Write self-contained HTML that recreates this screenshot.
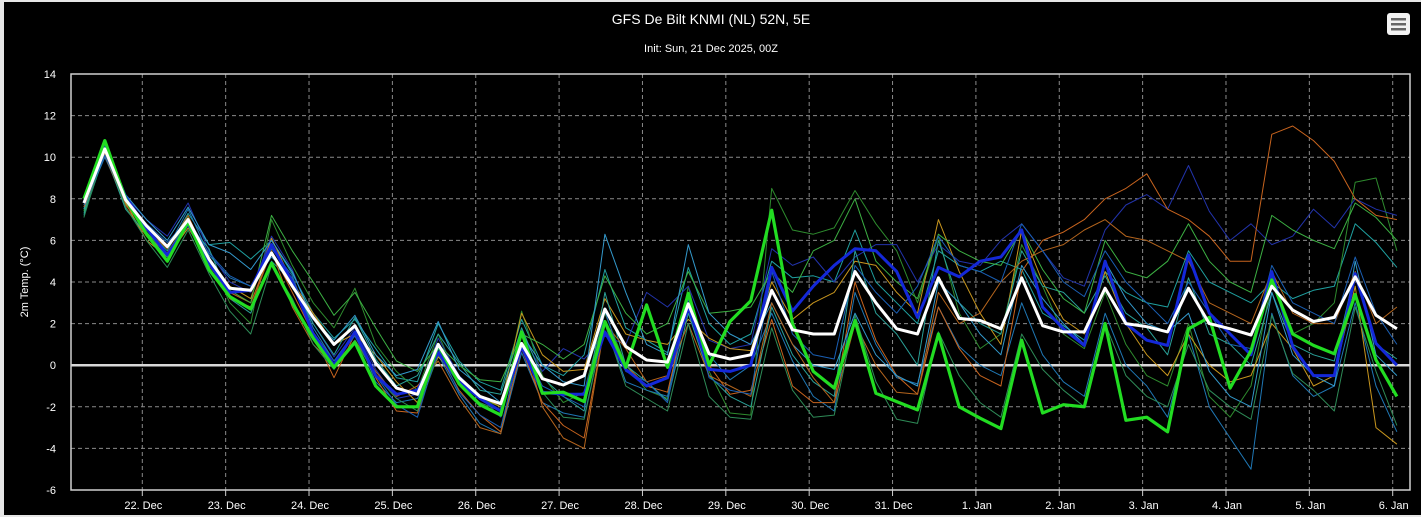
<!DOCTYPE html>
<html><head><meta charset="utf-8">
<style>
html,body{margin:0;padding:0;background:#000;}
#wrap{position:relative;width:1421px;height:517px;background:#000;overflow:hidden;}
svg text{font-family:"Liberation Sans",sans-serif;fill:#fff;}
</style></head>
<body>
<div id="wrap">
<svg id="chart" width="1421" height="517" xmlns="http://www.w3.org/2000/svg">
<rect x="0" y="0" width="1421" height="2" fill="#e6e6e6"/>
<rect x="0" y="0" width="4" height="517" fill="#e6e6e6"/>
<rect x="0" y="515" width="1421" height="2" fill="#e6e6e6"/>
<text x="711" y="24" font-size="14" text-anchor="middle">GFS De Bilt KNMI (NL) 52N, 5E</text>
<text x="711" y="52" font-size="11" text-anchor="middle">Init: Sun, 21 Dec 2025, 00Z</text>
<g>
<rect x="1387" y="13" width="23" height="22" rx="3" fill="#f2f2f2"/>
<rect x="1391" y="18" width="15" height="2.5" fill="#666"/>
<rect x="1391" y="23" width="15" height="2.5" fill="#666"/>
<rect x="1391" y="28" width="15" height="2.5" fill="#666"/>
</g>
<text x="0" y="0" font-size="11" text-anchor="middle" transform="translate(28,282) rotate(-90)">2m Temp. (°C)</text>
<g id="grid"></g>
<g id="series"></g>
<rect x="71" y="74" width="1339" height="416" fill="none" stroke="#d0d0d0" stroke-width="1.5"/>
</svg>
</div>
<script>
const yTicks=[14,12,10,8,6,4,2,0,-2,-4,-6];
const dayLabels=["22. Dec","23. Dec","24. Dec","25. Dec","26. Dec","27. Dec","28. Dec","29. Dec","30. Dec","31. Dec","1. Jan","2. Jan","3. Jan","4. Jan","5. Jan","6. Jan"];
const stepDays=0.25;
const startDay=-0.70;
const meanSeries=[7.8,10.4,7.95,6.7,5.7,7.0,5.1,3.7,3.6,5.4,3.8,2.3,1.0,1.9,0.1,-1.1,-1.4,1.0,-0.6,-1.5,-1.85,1.05,-0.65,-0.95,-0.5,2.7,0.9,0.25,0.15,2.95,0.55,0.3,0.5,3.6,1.7,1.5,1.5,4.5,3.0,1.75,1.5,4.2,2.25,2.15,1.75,4.2,1.9,1.6,1.6,3.7,2.0,1.85,1.6,3.7,2.0,1.75,1.45,3.8,2.65,2.1,2.3,4.25,2.4,1.75];
const opSeries=[8.0,10.8,8.0,6.3,5.0,6.9,4.6,3.3,2.7,4.9,3.0,1.3,-0.1,1.1,-1.0,-2.0,-2.0,1.0,-0.9,-1.9,-2.4,1.6,-1.35,-1.3,-1.75,2.1,-0.1,2.9,-0.1,3.45,0.0,2.1,3.1,7.45,2.0,-0.3,-1.1,2.15,-1.35,-1.75,-2.15,1.5,-2.0,-2.55,-3.05,1.2,-2.3,-1.9,-2.0,2.0,-2.65,-2.5,-3.2,1.75,2.3,-1.1,0.7,4.1,1.5,0.95,0.55,3.4,0.25,-1.5];
const ctrlSeries=[7.8,10.5,8.1,6.6,5.3,6.8,4.9,3.5,3.6,5.8,4.0,1.5,0.0,1.6,-0.5,-1.4,-1.2,0.6,-0.8,-1.6,-2.2,0.9,-1.3,-1.4,-1.4,1.6,-0.2,-1.0,-0.6,2.8,-0.2,-0.3,0.0,4.7,2.6,3.8,4.8,5.6,5.5,4.5,2.3,4.7,4.25,5.0,5.2,6.5,2.8,1.75,0.95,5.0,2.0,1.2,0.95,5.3,2.5,1.5,0.5,4.5,0.9,-0.5,-0.5,4.4,1.05,0.0];
const member1=[7.2,10.2,7.9,6.5,5.5,7.3,5.8,5.9,5.1,6.0,4.4,2.5,1.3,2.2,0.8,-0.6,-0.8,2.0,0.2,-0.8,-1.2,2.2,0.0,-0.5,0.5,4.6,1.8,1.2,0.6,4.7,2.0,1.0,1.5,5.0,4.2,4.3,4.0,6.5,4.0,3.0,2.0,5.5,4.8,4.5,5.0,4.6,2.5,1.9,1.2,4.5,3.5,3.0,2.8,5.5,4.0,3.5,3.0,4.0,3.2,3.6,3.8,6.8,5.9,4.7];
const member2=[7.5,10.6,8.0,6.2,5.0,6.8,5.2,3.0,2.0,7.0,4.8,3.0,1.8,3.7,1.0,-0.3,-1.2,1.5,-0.8,-1.6,-2.0,2.6,-0.5,-1.8,-1.3,2.5,0.0,-1.2,-1.6,3.8,-0.3,-2.3,-2.4,8.5,6.5,6.3,6.6,8.4,6.8,5.5,3.0,6.2,2.5,0.8,1.5,5.8,3.8,1.5,0.8,3.5,1.0,-0.5,-1.0,2.0,-1.5,-2.5,-1.0,4.0,1.5,2.0,3.0,8.8,9.0,5.5];
const member3=[7.6,10.0,7.8,6.7,5.6,7.5,5.3,4.2,3.8,5.2,4.2,1.8,0.2,1.6,-0.8,-1.8,-1.6,0.5,-1.4,-2.8,-3.3,0.6,-1.8,-2.3,-2.5,2.0,-0.8,-1.2,-1.5,3.0,0.5,-0.7,0.0,2.5,0.2,-1.5,-2.2,3.5,1.0,-0.6,-0.9,2.8,0.9,0.0,-0.5,3.0,0.5,-0.8,-1.5,2.5,0.0,-1.0,-2.5,1.5,-2.0,-3.5,-5.0,2.5,-0.5,-1.5,-1.0,3.0,-1.0,-3.2];
const member4=[7.8,10.3,8.1,7.0,6.2,7.8,5.5,4.0,3.5,6.2,4.6,2.0,0.4,1.8,-0.2,-1.6,-1.4,1.3,-0.5,-1.5,-2.5,1.5,-0.3,0.8,0.3,1.4,1.0,3.5,2.8,3.8,1.2,0.8,1.0,5.6,4.8,5.2,4.0,5.2,5.8,5.8,4.0,5.8,5.0,4.8,6.0,6.8,5.5,4.2,3.8,6.5,7.7,8.2,7.5,9.6,7.4,6.0,6.8,5.8,6.2,7.5,6.6,8.0,7.5,7.2];
const member5=[7.9,10.1,7.6,6.2,5.4,7.0,4.8,3.5,3.0,5.5,3.5,1.5,-0.6,1.5,-0.6,-2.2,-2.3,0.6,-1.2,-2.4,-3.2,0.8,-1.8,-2.9,-3.5,2.0,0.0,-1.0,-1.3,3.0,0.0,-1.4,-1.2,2.2,-1.0,-1.8,-1.8,4.0,1.2,-0.5,-1.4,2.8,0.8,-0.5,-1.0,4.5,6.0,6.4,7.0,8.0,8.5,9.2,7.5,7.0,6.2,5.0,5.0,11.1,11.5,10.8,9.8,8.0,7.2,7.0];
const member6=[7.7,10.4,7.8,6.0,5.2,6.6,5.0,3.8,3.2,6.1,4.0,2.5,1.0,1.5,0.5,-0.8,-1.8,0.4,-0.6,-1.5,-2.0,2.5,0.5,-0.3,-0.2,3.2,1.5,1.2,1.0,2.2,1.3,0.8,0.7,4.0,2.2,3.0,3.5,5.0,4.8,3.5,2.5,7.0,4.5,2.5,1.0,6.5,4.0,2.2,1.5,4.5,2.0,0.5,-0.5,1.5,0.0,-0.8,-0.5,2.0,0.8,-1.0,-0.5,3.8,-3.0,-3.8];
const member7=[7.3,10.2,7.5,6.3,5.2,6.8,5.6,3.2,2.5,5.0,4.0,2.0,0.5,2.3,0.3,-1.0,-0.5,1.5,0.1,-1.2,-1.4,1.8,-0.6,-1.5,-2.2,3.5,0.0,-0.8,-1.7,2.5,-0.5,-1.5,-2.0,2.8,0.5,-0.8,-1.5,5.5,2.5,1.5,0.0,6.0,3.0,2.0,1.5,5.5,3.8,3.5,2.5,4.3,2.5,1.8,0.5,4.2,1.5,1.0,0.0,3.5,1.0,0.5,0.2,4.5,1.0,0.3];
const member8=[7.4,10.5,7.9,6.4,5.3,7.1,4.6,3.6,3.0,7.2,5.5,4.0,2.4,3.5,1.8,0.2,-0.3,1.0,0.0,-0.7,-0.8,1.5,1.0,0.3,1.0,4.3,2.5,1.5,2.0,4.5,2.5,2.6,2.8,4.5,3.5,5.5,6.0,8.0,5.0,4.0,3.2,6.3,5.5,5.0,4.8,6.5,4.6,3.2,2.5,6.0,4.5,4.2,5.0,6.8,5.0,4.0,3.5,7.2,6.5,6.0,5.6,7.8,7.1,6.0];
const member9=[7.5,10.3,8.2,7.0,6.0,7.6,5.8,5.4,4.6,6.0,4.5,2.2,1.2,2.4,0.5,-0.5,-0.2,2.1,-0.2,-1.0,-1.8,1.5,0.0,-0.8,-1.0,6.3,3.5,1.0,0.5,5.8,2.5,1.5,1.0,3.0,1.0,0.0,-0.2,2.5,0.5,-0.5,-1.0,4.0,3.0,1.5,0.5,4.8,3.2,2.0,1.0,5.0,3.2,2.0,1.6,2.5,-0.3,-1.5,-2.0,3.5,0.5,-0.5,-1.0,5.0,0.5,-0.5];
const member10=[7.6,10.2,7.7,6.5,5.6,7.2,5.0,3.2,2.8,5.5,2.8,1.0,0.0,1.2,-0.3,-1.5,-1.0,0.2,-1.6,-3.0,-3.3,1.5,-2.0,-3.5,-4.0,2.0,0.8,-0.8,-0.5,2.0,-0.5,-1.0,-1.5,3.0,1.0,-0.6,-1.8,2.0,0.0,-1.3,-1.4,3.5,2.0,2.5,4.0,5.0,5.5,5.8,6.5,7.0,6.2,6.0,5.5,5.0,3.0,2.5,2.0,4.5,2.5,2.0,2.0,4.5,2.0,2.8];
const member11=[7.1,10.4,7.6,6.0,4.7,6.5,4.4,2.6,1.5,4.8,3.2,1.0,-0.2,1.2,-0.5,-1.6,-2.2,0.5,-0.9,-1.8,-2.2,0.9,-1.3,-2.5,-2.6,2.0,-1.0,-1.6,-2.2,2.0,-1.5,-2.5,-2.6,1.8,-1.2,-2.5,-2.4,2.4,-0.8,-2.6,-2.8,1.6,-0.5,-1.8,-2.5,1.5,-0.2,-1.2,-2.0,2.0,-0.5,-1.5,-2.0,1.0,-1.2,-2.0,-2.6,2.4,-0.4,-1.2,-2.2,2.8,-0.3,-2.9];
const member12=[7.7,10.1,8.0,6.8,5.9,7.0,5.4,4.3,3.8,5.6,4.3,1.6,0.2,1.4,-0.5,-1.9,-2.5,0.8,-1.3,-2.4,-3.0,1.0,-1.0,-1.5,-2.0,2.6,-0.3,-0.8,-1.8,3.2,-0.6,-1.2,-1.4,4.5,1.5,0.5,0.3,4.8,3.5,2.5,3.8,6.2,4.8,4.5,4.0,6.8,5.5,4.0,3.3,5.5,4.0,3.0,2.0,4.0,2.5,1.0,0.8,4.8,3.0,2.5,2.0,5.2,2.5,1.0];
const members=[member1,member2,member3,member4,member5,member6,member7,member8,member9,member10,member11,member12];
const memberColors=["#1fa0a0","#2e8b2e","#1f77b4","#2233aa","#c8641e","#c8961e","#2aa198","#3cb043","#3399cc","#b5651d","#2e8b57","#1a5fb4"];

const NS="http://www.w3.org/2000/svg";
const plotL=71,plotR=1410,plotT=74,plotB=490,yMin=-6,yMax=14;
const day0X=142.3,pxPerDay=83.36;
function xScale(dayVal){return day0X+dayVal*pxPerDay;}
function yScale(v){return plotB-(v-yMin)/(yMax-yMin)*(plotB-plotT);}
function idxDay(i){return startDay+i*stepDays;}

const grid=document.getElementById('grid');
yTicks.forEach(t=>{
  const y=yScale(t);
  if(t!==14&&t!==-6){
    const l=document.createElementNS(NS,'line');
    l.setAttribute('x1',plotL);l.setAttribute('x2',plotR);l.setAttribute('y1',y);l.setAttribute('y2',y);
    l.setAttribute('stroke','#8a8a8a');l.setAttribute('stroke-dasharray','4,3');l.setAttribute('stroke-width','1');
    
    
    grid.appendChild(l);
  }
  const tx=document.createElementNS(NS,'text');
  tx.setAttribute('x',56);tx.setAttribute('y',y+4);tx.setAttribute('font-size','11');tx.setAttribute('text-anchor','end');
  tx.textContent=t;
  
  
  grid.appendChild(tx);
});
dayLabels.forEach((lab,i)=>{
  const x=xScale(i);
  const l=document.createElementNS(NS,'line');
  l.setAttribute('x1',x);l.setAttribute('x2',x);l.setAttribute('y1',plotT);l.setAttribute('y2',plotB);
  l.setAttribute('stroke','#8a8a8a');l.setAttribute('stroke-dasharray','4,3');l.setAttribute('stroke-width','1');
  
  
  grid.appendChild(l);
  const tk=document.createElementNS(NS,'line');
  tk.setAttribute('x1',x);tk.setAttribute('x2',x);tk.setAttribute('y1',plotB);tk.setAttribute('y2',plotB+6);
  tk.setAttribute('stroke','#d0d0d0');
  
  
  grid.appendChild(tk);
  const tx=document.createElementNS(NS,'text');
  tx.setAttribute('x',x+1);tx.setAttribute('y',509);tx.setAttribute('font-size','11');tx.setAttribute('text-anchor','middle');
  tx.textContent=lab;
  
  
  grid.appendChild(tx);
});
const zl=document.createElementNS(NS,'line');
zl.setAttribute('x1',plotL);zl.setAttribute('x2',plotR);zl.setAttribute('y1',yScale(0));zl.setAttribute('y2',yScale(0));
zl.setAttribute('stroke','#d8d8d8');zl.setAttribute('stroke-width','2.5');


grid.appendChild(zl);

const sg=document.getElementById('series');
function drawLine(vals,color,w,name){
  const pts=vals.map((v,i)=>xScale(idxDay(i)).toFixed(1)+','+yScale(v).toFixed(1)).join(' ');
  const p=document.createElementNS(NS,'polyline');
  p.setAttribute('points',pts);p.setAttribute('fill','none');p.setAttribute('stroke',color);
  p.setAttribute('stroke-width',w);p.setAttribute('stroke-linejoin','round');
  
  
  sg.appendChild(p);
}
members.forEach((m,i)=>drawLine(m,memberColors[i],1,'ensemble-member-'+(i+1)));
drawLine(ctrlSeries,'#1428d8',3,'control-run-line');
drawLine(opSeries,'#22dd22',3.2,'operational-run-line');
drawLine(meanSeries,'#ffffff',3,'ensemble-mean-line');
</script>
</body></html>
